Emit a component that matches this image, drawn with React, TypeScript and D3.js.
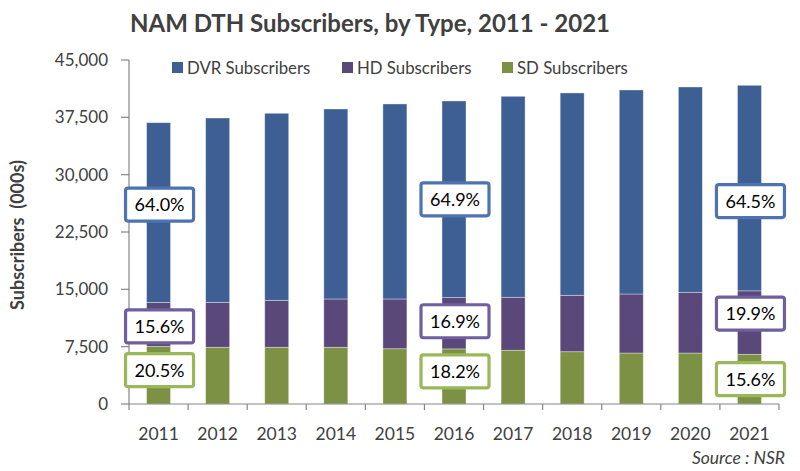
import React from 'react';
import * as d3 from 'd3';

const years = ['2011', '2012', '2013', '2014', '2015', '2016', '2017', '2018', '2019', '2020', '2021'];
const sdValues = [7540, 7420, 7420, 7420, 7230, 7210, 7030, 6840, 6670, 6670, 6500];
const hdValues = [5740, 5880, 6140, 6320, 6510, 6710, 6930, 7380, 7720, 7940, 8300];
const dvrValues = [23520, 24110, 24470, 24850, 25510, 25720, 26290, 26470, 26690, 26860, 26890];

const seriesNames = ['DVR Subscribers', 'HD Subscribers', 'SD Subscribers'];
const yTicks = [0, 7500, 15000, 22500, 30000, 37500, 45000];

// share call-outs shown on three of the years
const shareYears = ['2011', '2016', '2021'];
const dvrShares = ['64.0%', '64.9%', '64.5%'];
const hdShares = ['15.6%', '16.9%', '19.9%'];
const sdShares = ['20.5%', '18.2%', '15.6%'];

const W = 800;
const H = 471;
const margin = { top: 60, right: 21, bottom: 67, left: 129 };
const font = 'Lato, "Open Sans", sans-serif';
const textColor = '#404040';
const axisColor = '#868686';

const colors = { DVR: '#3D5F93', HD: '#594879', SD: '#7C9143' };
const boxColors = { DVR: '#4D74B0', HD: '#705F9E', SD: '#9AB75A' };

// hand nudges (px) of the call-out boxes from their segment middles
const nudge = {
  DVR: [-8, 0, 13],
  HD: [2, -2, -9],
  SD: [-5, -5, 0],
};

export default function App() {
  const x = d3
    .scaleBand()
    .domain(years)
    .range([margin.left, W - margin.right])
    .paddingInner(0.594)
    .paddingOuter(0.297);

  const y = d3
    .scaleLinear()
    .domain([0, 45000])
    .range([H - margin.bottom, margin.top]);

  const rows = years.map((yr, i) => ({ year: yr, SD: sdValues[i], HD: hdValues[i], DVR: dvrValues[i] }));
  const stack = d3.stack().keys(['SD', 'HD', 'DVR'])(rows as any);

  const fmt = d3.format(',');
  const step = x.step();
  const x0 = margin.left;
  const baseY = y(0);

  const boxW = 68;
  const boxH = 33;

  const callouts: { key: 'DVR' | 'HD' | 'SD'; labels: string[] }[] = [
    { key: 'DVR', labels: dvrShares },
    { key: 'HD', labels: hdShares },
    { key: 'SD', labels: sdShares },
  ];
  const layerIndex = { SD: 0, HD: 1, DVR: 2 };

  return (
    <svg
      width={W}
      height={H}
      style={{ position: 'absolute', left: 0, top: 0, background: '#fff' }}
      fontFamily={font}
    >
      <text x={370} y={32} textAnchor="middle" fontSize={24} fontWeight="bold" fill={textColor}>
        NAM DTH Subscribers, by Type, 2011 - 2021
      </text>

      {/* legend */}
      {seriesNames.map((name, i) => {
        const lx = [172, 342, 502][i];
        const key = ['DVR', 'HD', 'SD'][i];
        return (
          <g key={name}>
            <rect x={lx} y={62} width={11} height={11} fill={colors[key]} />
            <text x={lx + 15} y={74} fontSize={16.8} fill={textColor}>
              {name}
            </text>
          </g>
        );
      })}

      {/* bars */}
      {stack.map((layer) => (
        <g key={layer.key} fill={colors[layer.key]}>
          {layer.map((d, i) => (
            <rect
              key={years[i]}
              x={x(years[i])}
              y={y(d[1])}
              width={x.bandwidth()}
              height={y(d[0]) - y(d[1])}
              stroke="#ffffff"
              strokeOpacity={0.45}
              strokeWidth={0.8}
            />
          ))}
        </g>
      ))}

      {/* y axis */}
      <line x1={x0} x2={x0} y1={y(45000)} y2={baseY} stroke={axisColor} strokeWidth={1.2} />
      {yTicks.map((t) => (
        <g key={t}>
          <line x1={x0 - 8} x2={x0} y1={y(t)} y2={y(t)} stroke={axisColor} strokeWidth={1.2} />
          <text x={x0 - 21} y={y(t) + 6} textAnchor="end" fontSize={17} fill={textColor}>
            {fmt(t)}
          </text>
        </g>
      ))}
      <text
        transform={`translate(24,${y(22500) + 3}) rotate(-90)`}
        textAnchor="middle"
        fontSize={18}
        fontWeight="bold"
        fill={textColor}
        style={{ whiteSpace: 'pre' }}
      >
        {'Subscribers  (000s)'}
      </text>

      {/* x axis */}
      <line x1={x0} x2={W - margin.right} y1={baseY} y2={baseY} stroke={axisColor} strokeWidth={1.2} />
      {d3.range(years.length + 1).map((i) => (
        <line
          key={i}
          x1={x0 + i * step}
          x2={x0 + i * step}
          y1={baseY}
          y2={baseY + 6}
          stroke={axisColor}
          strokeWidth={1.2}
        />
      ))}
      {years.map((yr) => (
        <text
          key={yr}
          x={(x(yr) as number) + x.bandwidth() / 2}
          y={440}
          textAnchor="middle"
          fontSize={17.5}
          fill={textColor}
        >
          {yr}
        </text>
      ))}

      {/* share call-outs */}
      {callouts.map(({ key, labels }) =>
        shareYears.map((yr, j) => {
          const i = years.indexOf(yr);
          const seg = stack[layerIndex[key]][i];
          const cx = (x(yr) as number) + x.bandwidth() / 2 + 1;
          const cy = y((seg[0] + seg[1]) / 2) + nudge[key][j];
          return (
            <g key={key + yr}>
              <rect
                x={cx - boxW / 2}
                y={cy - boxH / 2}
                width={boxW}
                height={boxH}
                rx={2.5}
                fill="#ffffff"
                stroke={boxColors[key]}
                strokeWidth={3.2}
              />
              <text x={cx} y={cy + 6.5} textAnchor="middle" fontSize={18} fill="#000">
                {labels[j]}
              </text>
            </g>
          );
        })
      )}

      <text x={785} y={464} textAnchor="end" fontSize={17.5} fontStyle="italic" fill={textColor}>
        Source : NSR
      </text>
    </svg>
  );
}
